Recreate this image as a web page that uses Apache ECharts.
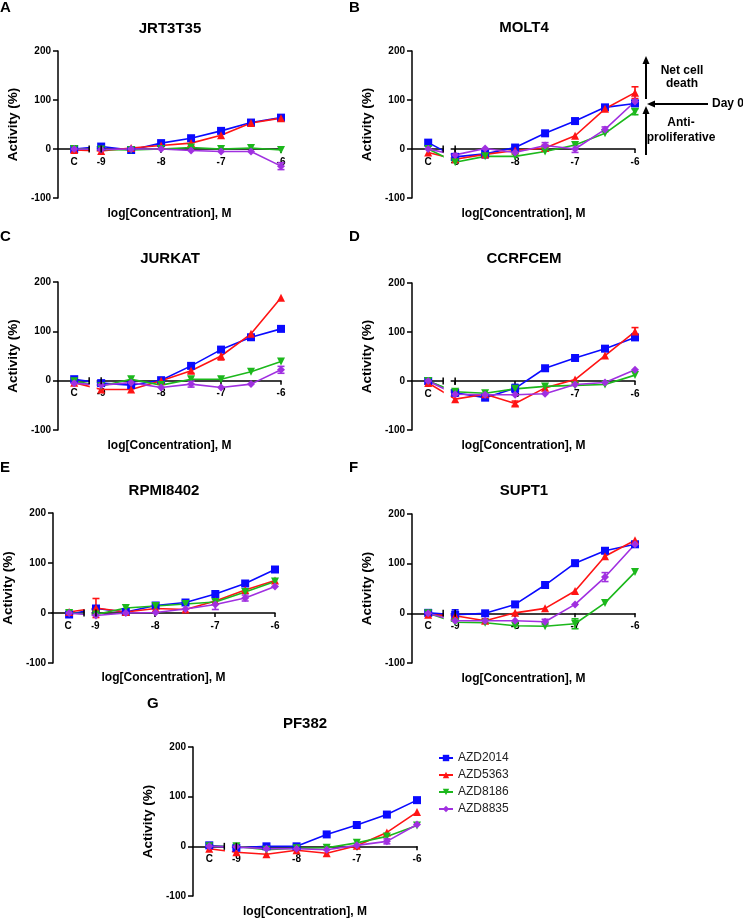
<!DOCTYPE html>
<html><head><meta charset="utf-8">
<script src="https://cdn.jsdelivr.net/npm/echarts@6/dist/echarts.min.js"></script>
<style>html,body{margin:0;padding:0;background:#fff}#c{width:743px;height:919px}</style>
</head><body><div id="c"></div>
<script>
// ---------- data ----------
const xValues = [-9.45, -9, -8.5, -8, -7.5, -7, -6.5, -6];   // C (control), then log[conc]
const xLabelValues = [-9.45, -9, -8, -7, -6];
const xLabelTexts = ['C', '-9', '-8', '-7', '-6'];
const xTickValues = [-9, -8, -7, -6];
const yTickValues = [-100, 0, 100, 200];
const drugs = ['AZD2014', 'AZD5363', 'AZD8186', 'AZD8835'];
const panelTitles = ['JRT3T35', 'MOLT4', 'JURKAT', 'CCRFCEM', 'RPMI8402', 'SUPT1', 'PF382'];
const panelLetters = ['A', 'B', 'C', 'D', 'E', 'F', 'G'];

// values per drug (AZD2014, AZD5363, AZD8186, AZD8835)
const jrt3t35 = [
  [0, 5, -2, 12, 22, 37, 54, 64],
  [-2, -4, 2, 7, 12, 28, 53, 63],
  [0, -1, -2, 0, 3, 0, 2, -2],
  [0, -1, 0, 0, -3, -5, -5, -35]
];
const molt4 = [
  [13, -16, -10, 3, 32, 57, 85, 93],
  [-7, -21, -11, -3, 2, 27, 82, 115],
  [0, -27, -15, -15, -5, 8, 32, 76],
  [0, -12, 1, -7, 7, 0, 40, 97]
];
const jurkat = [
  [3, -5, -9, 1, 30, 63, 88, 105],
  [-4, -18, -18, 0, 20, 50, 95, 168],
  [-1, -11, 3, -9, 3, 3, 18, 39],
  [-5, -9, -4, -14, -7, -14, -7, 22]
];
const ccrfcem = [
  [0, -24, -34, -15, 26, 47, 66, 89],
  [-4, -37, -27, -46, -14, 3, 52, 101],
  [0, -22, -25, -16, -11, -9, -7, 12],
  [0, -27, -28, -28, -26, -7, -3, 23]
];
const rpmi8402 = [
  [-3, 9, 2, 15, 21, 38, 59, 87],
  [2, 10, 2, 9, 7, 24, 46, 65],
  [0, -3, 10, 14, 18, 22, 42, 63],
  [0, -5, 0, 1, 8, 17, 30, 53]
];
const supt1 = [
  [1, -3, 0, 18, 57, 101, 126, 139],
  [-3, -5, -15, 1, 10, 45, 115, 147],
  [0, -18, -19, -25, -26, -21, 21, 83],
  [0, -15, -15, -15, -17, 18, 73, 139]
];
const pf382 = [
  [2, -3, 0, 0, 24, 43, 64, 93],
  [-5, -12, -16, -8, -14, 1, 28, 69],
  [0, 0, -7, -4, -3, 7, 20, 42],
  [0, -1, -5, -5, -7, 2, 10, 44]
];
// error bars: [drugIndex, pointIndex, error]
const errJrt3t35 = [[3, 7, 7]];
const errMolt4 = [[0, 1, 6], [0, 2, 8], [0, 5, 5], [1, 7, 12], [1, 4, 6], [2, 7, 6], [3, 4, 6], [3, 5, 7], [3, 6, 5]];
const errJurkat = [[1, 5, 8], [1, 4, 5], [3, 4, 6], [3, 7, 7]];
const errCcrfcem = [[0, 3, 8], [0, 2, 4], [1, 7, 8], [1, 3, 5]];
const errRpmi8402 = [[1, 1, 19], [3, 5, 10], [3, 6, 6]];
const errSupt1 = [[0, 1, 10], [1, 2, 4], [2, 5, 10], [3, 4, 5], [3, 6, 9]];
const errPf382 = [[3, 6, 5]];

const panelValues = [jrt3t35, molt4, jurkat, ccrfcem, rpmi8402, supt1, pf382];
const panelErrors = [errJrt3t35, errMolt4, errJurkat, errCcrfcem, errRpmi8402, errSupt1, errPf382];

// ---------- styling / layout ----------
const FONT = 'Liberation Sans, Arial, Helvetica, sans-serif';
const colors = ['#0a0aff', '#ff1414', '#1cb81c', '#a030e0'];
const symbols = ['rect', 'triangle', 'triangle', 'diamond'];
const symbolRot = [0, 0, 180, 0];
const symbolSizes = [8, 8, 8, 8];
const grids = [
  {left: 58, top: 51, width: 223, height: 147},
  {left: 412, top: 51, width: 223, height: 147},
  {left: 58, top: 282, width: 223, height: 148},
  {left: 412, top: 283, width: 223, height: 147},
  {left: 52, top: 513, width: 223, height: 150},
  {left: 412, top: 514, width: 223, height: 149},
  {left: 193, top: 747, width: 224, height: 149}
];
const titlePos = [[170, 29], [524, 28], [170, 259], [524, 259], [164, 491], [524, 491], [305, 724]];
const letterPos = [[0, 8], [349, 8], [0, 237], [349, 237], [0, 468], [349, 468], [147, 704]];
const X_MIN = -9.72, X_MAX = -6, Y_MIN = -100, Y_MAX = 200;
const GAP_START = -9.19, GAP_END = -9.075, BREAK_L = -9.2, BREAK_R = -9;

const gridOpts = [], xAxes = [], yAxes = [], series = [], graphics = [];
const axisStyle = {color: '#000', width: 1.5};
const boldText = {color: '#000', fontWeight: 'bold', fontFamily: FONT};

grids.forEach((g, p) => {
  const main = 2 * p, axisRow = 2 * p + 1;
  // data grid
  gridOpts.push(Object.assign({containLabel: false}, g));
  // thin grid whose bottom edge sits on the y = 0 line: carries the x axis
  const zeroY = g.top + g.height * (Y_MAX - 0) / (Y_MAX - Y_MIN);
  gridOpts.push({containLabel: false, left: g.left, width: g.width, top: zeroY - 1, height: 1});

  xAxes.push({type: 'value', gridIndex: main, min: X_MIN, max: X_MAX, show: false});
  xAxes.push({
    type: 'value', gridIndex: axisRow, min: X_MIN, max: X_MAX, position: 'bottom',
    axisLine: {show: true, onZero: false, lineStyle: axisStyle},
    axisTick: {show: true, customValues: xTickValues, length: 4, lineStyle: axisStyle},
    axisLabel: Object.assign({
      customValues: xLabelValues, fontSize: 10, margin: 8,
      formatter: v => { const i = xLabelValues.findIndex(t => Math.abs(t - v) < 1e-6); return i >= 0 ? xLabelTexts[i] : ''; }
    }, boldText),
    splitLine: {show: false},
    name: 'log[Concentration], M', nameLocation: 'middle', nameGap: 59,
    nameTextStyle: Object.assign({fontSize: 12}, boldText)
  });
  yAxes.push({
    type: 'value', gridIndex: main, min: Y_MIN, max: Y_MAX, interval: 100,
    axisLine: {show: true, onZero: false, lineStyle: axisStyle},
    axisTick: {show: true, length: 5, lineStyle: axisStyle},
    axisLabel: Object.assign({fontSize: 10, margin: 7}, boldText),
    splitLine: {show: false},
    name: 'Activity (%)', nameLocation: 'middle', nameGap: 38, nameRotate: 90,
    nameTextStyle: Object.assign({fontSize: 13.5}, boldText)
  });
  yAxes.push({type: 'value', gridIndex: axisRow, min: 0, max: 1, show: false});

  const vals = panelValues[p];
  vals.forEach((arr, d) => {
    series.push({
      type: 'line', name: drugs[d], xAxisIndex: main, yAxisIndex: main, z: 2,
      data: arr.map((v, i) => [xValues[i], v]),
      symbol: symbols[d], symbolSize: symbolSizes[d], symbolRotate: symbolRot[d],
      itemStyle: {color: colors[d]}, lineStyle: {color: colors[d], width: 1.6},
      emphasis: {disabled: true}, silent: true, animation: false
    });
  });
  series.push({
    type: 'custom', xAxisIndex: main, yAxisIndex: main, z: 2, silent: true, animation: false,
    data: panelErrors[p].map(([d, i, e]) => [xValues[i], vals[d][i], e, d]),
    encode: {x: 0, y: 1},
    renderItem: (params, api) => {
      const x = api.value(0), y = api.value(1), e = api.value(2), d = api.value(3);
      const t = api.coord([x, y + e]), b = api.coord([x, y - e]);
      const st = {stroke: colors[d], lineWidth: 1.6};
      return {type: 'group', children: [
        {type: 'line', shape: {x1: t[0], y1: t[1], x2: b[0], y2: b[1]}, style: st},
        {type: 'line', shape: {x1: t[0] - 3.5, y1: t[1], x2: t[0] + 3.5, y2: t[1]}, style: st},
        {type: 'line', shape: {x1: b[0] - 3.5, y1: b[1], x2: b[0] + 3.5, y2: b[1]}, style: st}
      ]};
    }
  });
  // axis break between control and -9
  series.push({
    type: 'custom', xAxisIndex: main, yAxisIndex: main, z: 3, silent: true, animation: false,
    data: [[GAP_START, 0]], encode: {x: 0, y: 1},
    renderItem: (params, api) => {
      const a = api.coord([GAP_START, Y_MAX]), b = api.coord([GAP_END, Y_MIN]);
      const l = api.coord([BREAK_L, 0]), r = api.coord([BREAK_R, 0]);
      const st = {stroke: '#000', lineWidth: 1.5};
      return {type: 'group', children: [
        {type: 'rect', shape: {x: a[0], y: a[1], width: b[0] - a[0], height: b[1] - a[1]}, style: {fill: '#fff'}},
        {type: 'line', shape: {x1: l[0], y1: l[1] - 3.5, x2: l[0], y2: l[1] + 3.5}, style: st},
        {type: 'line', shape: {x1: r[0], y1: r[1] - 3.5, x2: r[0], y2: r[1] + 3.5}, style: st}
      ]};
    }
  });

  graphics.push(
    {type: 'text', x: titlePos[p][0], y: titlePos[p][1],
      style: {text: panelTitles[p], font: 'bold 15px ' + FONT, fill: '#000', textAlign: 'center', textVerticalAlign: 'middle'}},
    {type: 'text', x: letterPos[p][0], y: letterPos[p][1],
      style: {text: panelLetters[p], font: 'bold 15px ' + FONT, fill: '#000', textAlign: 'left', textVerticalAlign: 'middle'}}
  );
});

// annotation next to MOLT4
const ann = {font: 'bold 12px ' + FONT, fill: '#000', textAlign: 'center', textVerticalAlign: 'middle'};
const ls = {stroke: '#000', lineWidth: 2};
graphics.push(
  {type: 'line', shape: {x1: 646, y1: 99, x2: 646, y2: 62}, style: ls},
  {type: 'polygon', shape: {points: [[646, 56], [642.5, 64], [649.5, 64]]}, style: {fill: '#000'}},
  {type: 'line', shape: {x1: 646, y1: 155, x2: 646, y2: 112}, style: ls},
  {type: 'polygon', shape: {points: [[646, 106], [642.5, 114], [649.5, 114]]}, style: {fill: '#000'}},
  {type: 'line', shape: {x1: 708, y1: 104, x2: 652, y2: 104}, style: ls},
  {type: 'polygon', shape: {points: [[647, 104], [655, 100.5], [655, 107.5]]}, style: {fill: '#000'}},
  {type: 'text', x: 682, y: 71, style: Object.assign({text: 'Net cell'}, ann)},
  {type: 'text', x: 682, y: 84, style: Object.assign({text: 'death'}, ann)},
  {type: 'text', x: 681, y: 123, style: Object.assign({text: 'Anti-'}, ann)},
  {type: 'text', x: 681, y: 138, style: Object.assign({text: 'proliferative'}, ann)},
  {type: 'text', x: 712, y: 104, style: Object.assign({}, ann, {text: 'Day 0', textAlign: 'left'})}
);

const chart = echarts.init(document.getElementById('c'), null, {renderer: 'canvas'});
chart.setOption({
  animation: false,
  backgroundColor: '#fff',
  grid: gridOpts,
  xAxis: xAxes,
  yAxis: yAxes,
  legend: {
    data: drugs, orient: 'vertical', left: 433, top: 747, itemWidth: 14, itemHeight: 8, itemGap: 5,
    textStyle: {fontSize: 12, color: '#222', fontFamily: FONT}, selectedMode: false
  },
  series: series,
  graphic: graphics
});
</script></body></html>
